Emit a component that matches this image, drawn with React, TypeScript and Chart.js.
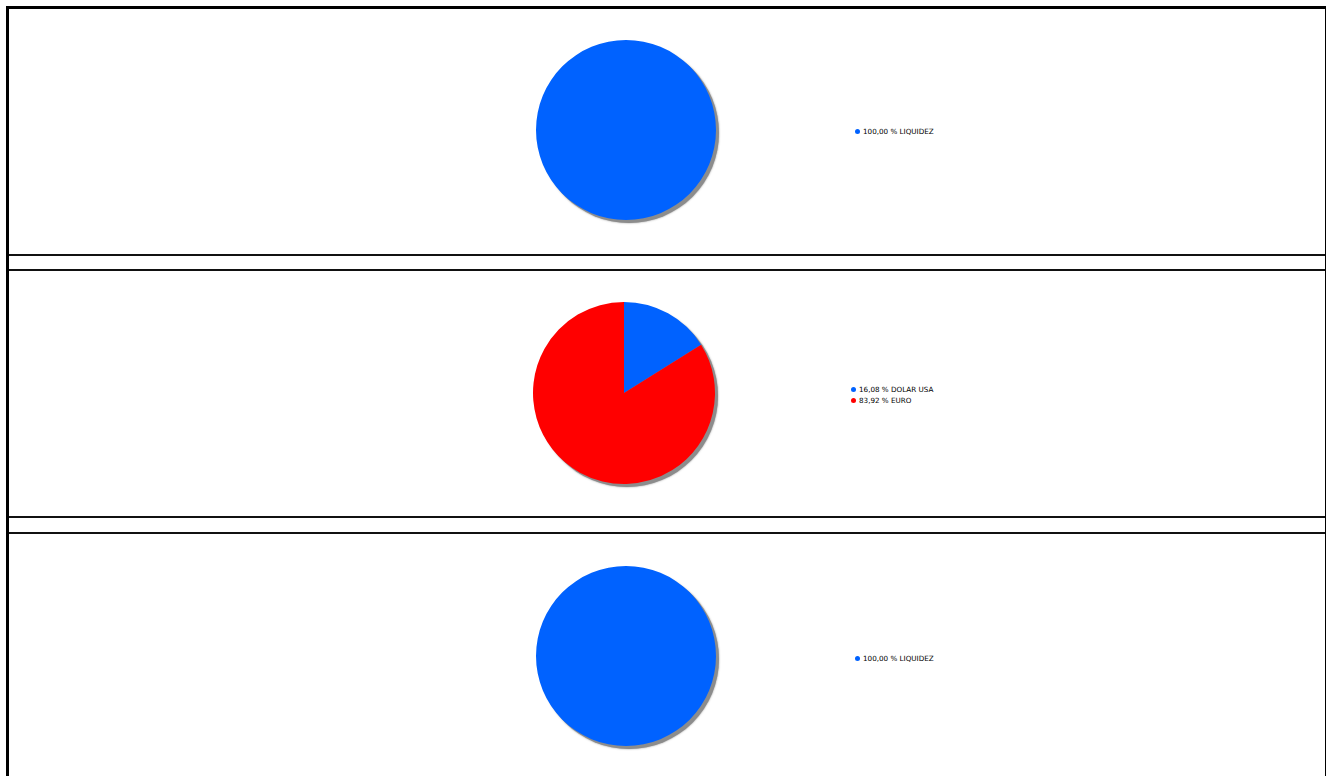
import React, { useEffect, useRef } from "react";
import { Chart, registerables } from "chart.js";

Chart.register(...registerables);

const BLUE = "#0062FF";
const RED = "#FF0000";

const panel1Labels = ["100,00 % LIQUIDEZ"];
const panel1Values = [100];
const panel1Colors = [BLUE];

const panel2Labels = ["16,08 % DOLAR USA", "83,92 % EURO"];
const panel2Values = [16.08, 83.92];
const panel2Colors = [BLUE, RED];

const panel3Labels = ["100,00 % LIQUIDEZ"];
const panel3Values = [100];
const panel3Colors = [BLUE];

const shadowPlugin = {
  id: "pieShadow",
  beforeDatasetsDraw(chart: any) {
    const meta = chart.getDatasetMeta(0);
    const arc = meta && meta.data && meta.data[0];
    if (!arc) return;
    const ctx = chart.ctx;
    ctx.save();
    ctx.fillStyle = "#8c8c8c";
    ctx.shadowColor = "rgba(90,90,90,0.7)";
    ctx.shadowBlur = 2;
    ctx.beginPath();
    ctx.arc(arc.x + 3, arc.y + 3, arc.outerRadius, 0, Math.PI * 2);
    ctx.fill();
    ctx.restore();
  },
};

type PieProps = {
  left: number;
  top: number;
  size: number;
  pad: number;
  labels: string[];
  values: number[];
  colors: string[];
};

function Pie({ left, top, size, pad, labels, values, colors }: PieProps) {
  const ref = useRef<HTMLCanvasElement | null>(null);
  useEffect(() => {
    if (!ref.current) return;
    const chart = new Chart(ref.current, {
      type: "pie",
      data: {
        labels,
        datasets: [
          {
            data: values,
            backgroundColor: colors,
            borderWidth: 0,
          },
        ],
      },
      options: {
        animation: false,
        responsive: false,
        maintainAspectRatio: false,
        layout: { padding: pad },
        plugins: {
          legend: { display: false },
          tooltip: { enabled: false },
        },
      },
      plugins: [shadowPlugin],
    });
    return () => chart.destroy();
  }, []);
  return (
    <canvas
      ref={ref}
      width={size}
      height={size}
      style={{ position: "absolute", left, top, width: size, height: size }}
    />
  );
}

type LegendProps = { left: number; top: number; labels: string[]; colors: string[] };

function Legend({ left, top, labels, colors }: LegendProps) {
  return (
    <div style={{ position: "absolute", left, top }}>
      {labels.map((l, i) => (
        <div
          key={i}
          style={{
            display: "flex",
            alignItems: "center",
            height: 11,
            fontFamily: "'DejaVu Sans', Verdana, sans-serif",
            fontSize: 7.2,
            color: "#000",
            whiteSpace: "nowrap",
          }}
        >
          <span
            style={{
              display: "inline-block",
              width: 5,
              height: 5,
              borderRadius: "50%",
              background: colors[i],
              marginRight: 3,
            }}
          />
          <span>{l}</span>
        </div>
      ))}
    </div>
  );
}

const hLine = (top: number) => (
  <div
    style={{
      position: "absolute",
      left: 9,
      top,
      width: 1316,
      height: 2,
      background: "#111",
    }}
  />
);

export default function App() {
  return (
    <div
      style={{
        position: "fixed",
        left: 0,
        top: 0,
        width: 1327,
        height: 776,
        background: "#fff",
        overflow: "hidden",
      }}
    >
      {/* frame */}
      <div style={{ position: "absolute", left: 6, top: 6, width: 3, height: 800, background: "#000" }} />
      <div style={{ position: "absolute", left: 6, top: 6, width: 1320, height: 3, background: "#000" }} />
      <div style={{ position: "absolute", left: 1325, top: 6, width: 1, height: 800, background: "#000" }} />
      {hLine(254)}
      {hLine(269)}
      {hLine(516)}
      {hLine(532)}

      <Pie left={526} top={30} size={200} pad={10} labels={panel1Labels} values={panel1Values} colors={panel1Colors} />
      <Legend left={855} top={126} labels={panel1Labels} colors={panel1Colors} />

      <Pie left={524} top={293} size={200} pad={9} labels={panel2Labels} values={panel2Values} colors={panel2Colors} />
      <Legend left={851} top={384} labels={panel2Labels} colors={panel2Colors} />

      <Pie left={526} top={556} size={200} pad={10} labels={panel3Labels} values={panel3Values} colors={panel3Colors} />
      <Legend left={855} top={653} labels={panel3Labels} colors={panel3Colors} />
    </div>
  );
}
